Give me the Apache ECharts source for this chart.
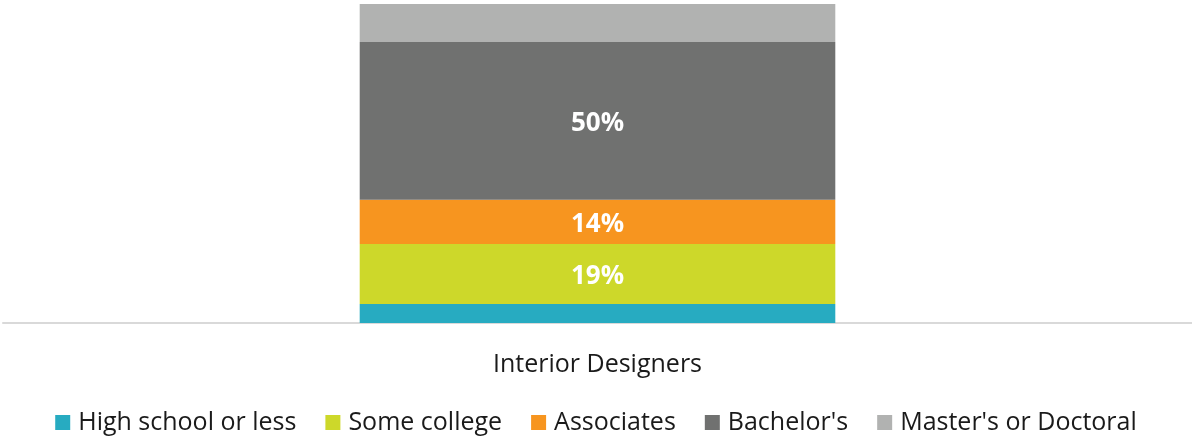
<!DOCTYPE html>
<html>
<head>
<meta charset="utf-8">
<script src="https://cdn.jsdelivr.net/npm/echarts@6/dist/echarts.min.js"></script>
<style>
  html, body { margin: 0; padding: 0; background: #fff; }
  #chart { width: 1192px; height: 437px; }
</style>
</head>
<body>
<div id="chart"></div>
<script>
// Education attainment share for one occupation
const categories = ['Interior Designers'];
const seriesNames = ['High school or less', 'Some college', 'Associates', "Bachelor's", "Master's or Doctoral"];
const highSchool = [6];
const someCollege = [19];
const associates = [14];
const bachelors = [50];
const masters = [12];
const seriesColors = ['#27abc1', '#cdd82a', '#f7951f', '#707170', '#b1b2b1'];

const seriesValues = [highSchool, someCollege, associates, bachelors, masters];
const font = '"Open Sans", "Noto Sans", sans-serif';

const chart = echarts.init(document.getElementById('chart'));
chart.setOption({
  animation: false,
  textStyle: { fontFamily: font },
  grid: { left: 3, right: 0, top: 4, bottom: 114 },
  xAxis: {
    type: 'category',
    data: categories,
    axisLine: { lineStyle: { color: '#d9d9d9', width: 2 } },
    axisTick: { show: false },
    axisLabel: { color: '#1a1a1a', fontSize: 25, margin: 29, fontFamily: font }
  },
  yAxis: {
    type: 'value',
    min: 0,
    // top of the axis sits at the stacked total
    max: v => v.max,
    show: false
  },
  legend: {
    top: 405,
    left: 'center',
    itemWidth: 15,
    itemHeight: 15,
    itemGap: 29,
    icon: 'rect',
    textStyle: { color: '#1a1a1a', fontSize: 25, fontFamily: font, padding: [0, 0, 0, 3] },
    data: seriesNames
  },
  series: seriesNames.map((name, i) => ({
    name: name,
    type: 'bar',
    stack: 'total',
    barWidth: '40%',
    data: seriesValues[i],
    itemStyle: { color: seriesColors[i] },
    label: {
      show: true,
      position: 'inside',
      offset: [0, 3],
      color: '#fff',
      fontWeight: 'bold',
      fontSize: 26,
      fontFamily: font,
      formatter: p => (p.seriesIndex >= 1 && p.seriesIndex <= 3 ? p.value + '%' : '')
    }
  }))
});
</script>
</body>
</html>
